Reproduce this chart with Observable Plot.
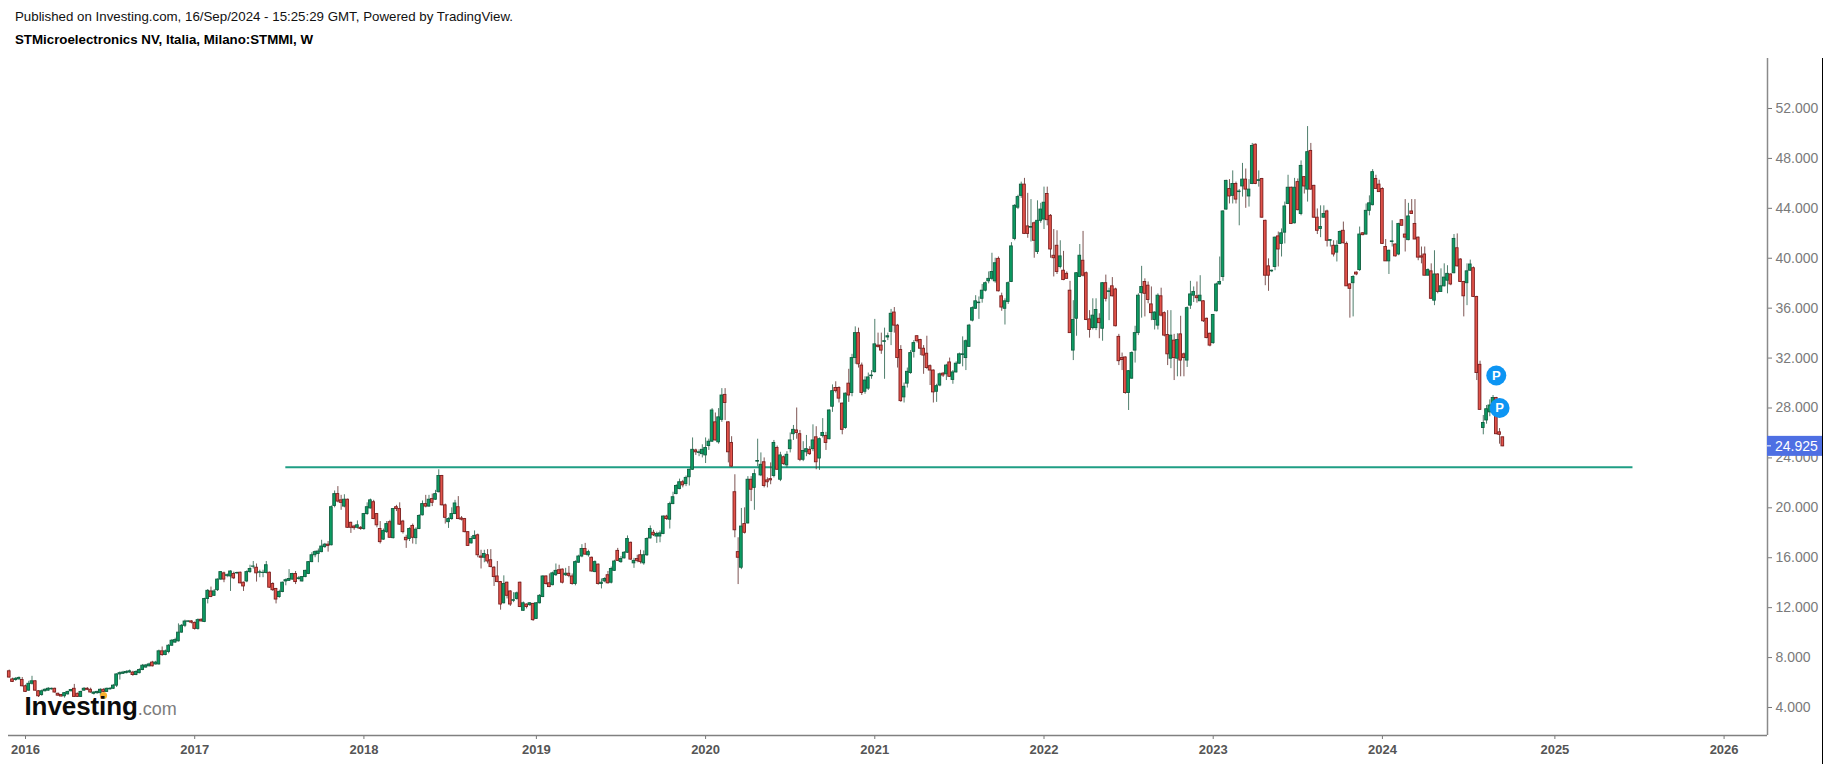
<!DOCTYPE html>
<html><head><meta charset="utf-8">
<script src="https://cdn.jsdelivr.net/npm/d3@7"></script>
<script src="https://cdn.jsdelivr.net/npm/@observablehq/plot@0.6"></script>
<style>
html,body{margin:0;padding:0;background:#fff;width:1830px;height:764px;overflow:hidden;font-family:"Liberation Sans",Arial,sans-serif}
#head{position:relative;height:50px}
#head div{position:absolute;left:15px;font-size:13.3px;line-height:14px;color:#111;white-space:nowrap}
#chart svg{display:block}
#logo{position:absolute;left:24.5px;top:691px;line-height:30px;white-space:nowrap;color:#0b0b0b;font-weight:bold;font-size:26px;letter-spacing:-.1px}
#logo span{font-weight:normal;font-size:18px;color:#7d7d7d;letter-spacing:0}
</style></head><body>
<div id="head"><div style="top:10px">Published on Investing.com, 16/Sep/2024 - 15:25:29 GMT, Powered by TradingView.</div>
<div style="top:33px;font-weight:bold;color:#000">STMicroelectronics NV, Italia, Milano:STMMI, W</div></div>
<div id="chart"></div>
<div id="logo">Investing<span>.com</span></div>
<script>
// weekly rows: open, high, low, close
const w2015 = [[6.9,7.0,6.35,6.4],[6.25,6.35,6.0,6.05],[6.2,6.4,6.1,6.3],[6.25,6.45,6.2,6.37],[6.2,6.4,5.65,5.7]];
const w2016 = [[5.7,5.8,5.2,5.25],[5.35,6.1,5.3,5.9],[5.9,6.5,5.8,6.1],[6.1,6.15,5.3,5.35],[5.3,5.35,4.8,4.9],[5.0,5.4,4.9,5.3],[5.3,5.5,5.25,5.42],[5.35,5.6,5.3,5.5],[5.45,5.55,5.4,5.5],[5.5,5.55,5.15,5.2],[5.1,5.15,4.9,4.95],[5.0,5.05,4.85,4.88],[4.9,5.2,4.75,5.15],[5.05,5.3,5.0,5.25],[5.3,5.45,5.25,5.4],[5.5,5.85,4.8,4.85],[5.1,5.15,4.8,4.85],[4.85,5.3,4.8,5.25],[5.35,5.6,5.3,5.5],[5.5,5.6,5.35,5.42],[5.42,5.55,5.15,5.2],[5.1,5.25,5.0,5.2],[5.15,5.3,5.05,5.25],[5.15,5.5,4.9,5.42],[5.42,5.5,5.2,5.25],[5.25,5.55,5.2,5.5],[5.45,5.6,5.4,5.5],[5.5,5.85,5.45,5.75],[5.75,6.7,5.6,6.65],[6.65,6.85,6.2,6.75],[6.7,6.9,6.65,6.8],[6.75,6.95,6.7,6.85],[6.8,7.0,6.75,6.9],[6.8,6.9,6.5,6.6],[6.6,6.95,6.55,6.85],[6.75,7.1,6.7,7.0],[7.0,7.45,6.95,7.35],[7.2,7.45,7.15,7.37],[7.3,7.55,7.25,7.45],[7.6,7.7,7.25,7.3],[7.45,7.7,7.4,7.6],[7.45,8.6,7.4,8.5],[8.5,8.85,8.1,8.2],[8.2,8.6,8.15,8.5],[8.45,9.05,8.3,8.95],[8.95,9.45,8.9,9.35],[9.2,9.55,9.15,9.4],[9.3,10.7,9.25,10.0],[10.0,10.65,9.95,10.55],[10.55,11.0,10.4,10.89],[10.87,10.95,10.8,10.9],[10.9,10.95,10.7,10.8]];
const w2017 = [[10.78,10.85,10.2,10.3],[10.3,11.1,10.2,11.0],[11.03,11.1,10.85,10.9],[10.85,12.75,10.8,12.7],[12.7,13.45,12.3,13.35],[13.3,13.65,12.8,12.85],[12.95,13.45,12.9,13.3],[13.4,14.3,13.3,14.25],[14.25,14.9,14.2,14.85],[14.75,14.85,14.0,14.25],[14.55,14.7,14.4,14.6],[14.5,14.95,13.3,14.9],[14.7,14.85,14.25,14.35],[14.75,14.85,14.65,14.78],[14.8,14.85,13.9,13.95],[14.0,14.05,13.3,13.7],[14.1,14.95,14.0,14.85],[14.85,15.4,14.75,15.1],[15.28,15.7,15.1,15.3],[15.2,15.5,14.05,14.75],[14.8,15.0,14.4,14.83],[14.78,15.0,14.4,14.8],[14.78,15.7,14.7,15.4],[14.8,14.85,13.55,13.6],[13.9,14.0,13.3,13.4],[13.5,13.55,12.3,12.65],[12.85,13.4,12.75,13.25],[13.25,14.05,13.2,14.0],[14.1,14.3,13.75,14.2],[14.15,15.05,14.1,14.3],[14.25,14.75,14.2,14.7],[14.7,14.9,13.85,14.05],[14.3,14.5,14.2,14.35],[14.1,14.5,14.05,14.45],[14.45,15.0,14.4,14.95],[14.7,15.7,14.65,15.65],[15.65,16.4,15.6,16.2],[16.2,16.55,16.0,16.45],[16.3,16.7,15.6,16.5],[16.45,17.4,16.4,16.9],[16.85,17.15,16.75,17.05],[17.05,17.3,16.45,16.95],[17.0,20.15,16.95,20.05],[20.15,21.35,20.0,21.1],[21.1,21.7,20.4,20.5],[20.6,21.0,19.8,20.4],[20.1,21.05,20.0,20.65],[20.65,20.7,18.35,18.4],[18.8,18.85,17.95,18.4],[18.5,18.6,18.2,18.37],[18.4,18.95,18.3,18.6],[18.4,18.5,18.2,18.3]];
const w2018 = [[18.3,19.55,18.2,19.5],[19.5,20.4,19.4,20.05],[19.95,20.7,19.9,20.6],[20.45,20.6,19.05,19.1],[19.5,19.55,18.4,18.6],[18.3,18.9,17.1,17.25],[17.45,18.3,17.4,18.15],[18.05,18.9,17.95,18.7],[18.85,19.0,17.55,17.6],[17.57,19.95,17.5,19.9],[20.05,20.2,19.7,19.9],[19.9,20.4,18.6,18.65],[18.9,19.0,17.9,18.05],[17.6,17.8,16.75,17.4],[17.5,18.4,17.3,18.3],[18.55,18.7,17.1,17.6],[17.57,18.4,17.05,18.25],[18.3,19.45,18.25,19.35],[19.4,20.55,19.35,20.3],[20.3,21.0,20.0,20.1],[20.1,21.0,20.05,20.65],[20.7,21.1,20.1,20.4],[20.65,21.4,20.6,21.1],[21.25,23.05,21.2,22.55],[22.55,22.6,20.15,20.2],[20.2,20.3,18.7,19.2],[18.85,19.2,18.35,19.1],[19.1,20.0,19.0,19.5],[19.5,20.6,19.45,20.35],[20.05,20.9,19.05,19.1],[19.15,19.3,18.95,19.05],[19.1,19.15,18.0,18.05],[18.05,18.1,16.9,16.95],[17.15,17.7,17.1,17.5],[17.5,18.15,17.45,17.75],[17.8,17.9,16.0,16.2],[16.1,16.6,15.1,16.0],[16.0,16.6,15.6,16.3],[16.2,16.65,15.5,15.7],[15.8,16.65,15.2,15.25],[15.2,15.3,13.7,14.45],[14.5,15.7,14.0,14.05],[14.05,14.1,11.8,12.25],[12.35,14.55,12.3,13.9],[14.0,14.05,12.7,12.95],[13.3,13.35,12.1,12.25],[12.55,13.2,12.4,12.6],[12.7,13.25,12.6,13.15],[14.0,14.05,12.0,12.05],[11.75,12.45,11.7,12.35],[12.25,12.3,11.9,12.05],[12.2,12.4,12.1,12.35],[12.3,12.35,10.9,11.0]];
const w2019 = [[11.1,12.4,11.05,12.35],[12.35,13.05,12.3,12.95],[12.85,14.55,12.8,14.5],[14.5,14.55,13.8,13.9],[13.95,14.7,13.6,13.65],[13.8,14.85,13.75,14.75],[14.6,15.5,14.5,14.95],[15.0,15.4,14.7,14.7],[15.05,15.1,13.9,14.0],[14.6,15.15,14.5,14.72],[14.72,15.3,14.4,14.55],[14.5,14.7,13.8,13.9],[13.9,15.75,13.75,15.65],[15.6,16.2,15.55,16.1],[16.1,17.05,16.0,16.7],[16.7,17.15,16.2,16.25],[16.2,16.6,16.05,16.45],[16.0,16.05,14.85,14.9],[14.85,15.75,14.8,15.65],[15.45,15.5,13.8,13.9],[13.9,14.3,13.5,14.0],[14.1,14.4,14.0,14.3],[14.6,14.9,13.9,13.95],[14.0,15.25,13.9,15.1],[14.95,15.8,14.9,15.7],[16.55,16.75,15.7,15.75],[15.65,16.1,15.55,15.9],[15.95,16.5,15.9,16.4],[16.4,17.75,16.35,17.5],[17.2,17.25,15.8,15.85],[15.55,15.95,15.15,15.75],[15.9,16.2,15.6,15.75],[16.2,16.6,15.5,15.65],[15.55,16.55,15.4,16.2],[16.2,17.6,16.1,17.5],[17.55,18.55,17.5,18.3],[18.0,18.2,17.7,17.8],[17.7,18.05,17.15,17.9],[17.7,18.15,17.2,17.95],[17.9,19.35,17.85,19.3],[19.3,19.4,19.0,19.1],[19.05,20.45,18.3,20.3],[20.3,21.25,20.25,20.85],[21.1,21.85,21.05,21.75],[21.5,22.3,21.45,22.05],[22.05,22.2,21.6,21.8],[21.9,22.55,21.7,22.4],[22.45,23.1,21.75,23.05],[23.05,25.6,23.0,24.65],[24.6,24.7,24.2,24.45],[24.4,24.65,24.1,24.45],[24.3,25.05,24.0,24.65]];
const w2020 = [[24.2,25.6,23.55,24.8],[24.95,25.5,24.6,25.3],[25.3,27.95,25.25,27.8],[26.85,27.6,25.35,25.4],[25.25,27.95,25.1,27.25],[27.05,29.55,26.85,29.0],[29.05,29.55,27.0,28.4],[26.85,26.9,23.6,24.45],[25.2,25.7,23.25,23.3],[21.25,22.65,17.6,18.2],[16.45,17.6,13.85,16.0],[15.2,19.95,15.05,18.5],[18.7,20.0,17.9,18.0],[18.75,22.5,18.7,22.25],[22.25,22.5,20.5,21.45],[21.6,23.05,19.8,22.7],[23.7,25.5,23.3,23.75],[22.6,24.4,22.5,23.45],[23.65,24.0,21.6,21.75],[22.2,22.4,21.6,22.05],[22.3,23.6,21.85,22.2],[22.55,25.4,22.4,25.2],[24.8,24.95,23.0,23.05],[22.25,24.45,22.1,24.2],[24.05,24.15,23.4,23.5],[23.4,24.5,23.2,24.25],[24.7,26.0,24.4,25.4],[25.9,26.6,25.4,26.25],[26.2,28.0,25.5,26.0],[25.9,26.2,23.7,23.85],[23.85,25.3,23.7,24.55],[24.45,25.8,24.1,24.7],[24.65,24.9,24.2,24.3],[24.7,26.65,24.5,25.4],[25.65,26.5,23.05,23.65],[23.95,25.6,23.0,25.5],[25.75,27.15,25.6,26.0],[25.75,26.05,24.6,25.2],[25.5,27.85,25.45,27.8],[28.1,29.85,27.65,29.35],[29.6,30.1,29.2,29.35],[29.6,29.7,28.4,28.75],[28.35,28.4,25.85,26.25],[26.4,29.2,26.3,29.15],[29.95,31.1,28.45,29.0],[29.2,32.3,28.9,32.0],[32.0,34.5,31.5,34.0],[34.0,34.4,31.2,31.5],[31.4,31.6,29.0,29.2],[29.3,30.5,29.1,30.2],[29.55,30.8,29.4,30.45],[30.55,31.0,30.3,30.6]];
const w2021 = [[30.87,35.1,30.8,33.1],[33.0,34.0,32.8,32.9],[33.0,34.0,32.3,32.6],[33.3,34.4,30.3,33.35],[33.65,34.0,33.4,33.75],[34.1,35.9,33.0,35.55],[35.65,36.05,34.0,34.6],[34.6,34.7,31.2,32.0],[32.65,33.0,28.45,28.55],[28.85,30.0,28.4,29.7],[29.95,31.2,29.6,30.9],[30.8,32.6,30.7,32.4],[32.5,33.4,32.0,33.2],[33.75,33.8,33.2,33.35],[33.45,33.5,32.2,32.75],[32.75,33.0,30.7,32.2],[32.35,33.75,31.1,31.2],[31.35,31.45,29.8,31.0],[31.0,31.05,28.4,29.25],[29.3,29.9,28.45,29.75],[29.8,30.8,29.7,30.7],[30.75,30.85,30.45,30.6],[30.7,31.5,30.2,31.4],[31.65,32.0,30.45,30.5],[30.25,31.0,29.9,30.85],[30.85,31.7,30.8,31.55],[31.55,32.4,31.5,32.3],[32.25,33.7,31.3,32.3],[32.0,33.45,31.0,33.35],[32.9,34.7,32.85,34.6],[35.0,36.1,34.9,36.0],[35.95,37.0,35.9,36.55],[36.4,36.9,35.1,36.45],[36.75,37.9,36.4,37.4],[37.4,38.1,37.3,38.0],[38.15,38.9,37.95,38.35],[38.35,40.4,38.2,38.9],[38.15,40.0,38.0,39.6],[39.95,40.1,37.3,37.35],[36.95,37.2,35.75,36.05],[35.95,36.75,34.65,36.55],[36.5,38.1,36.3,38.0],[38.1,41.25,38.05,40.95],[41.55,44.3,41.4,44.2],[44.05,45.05,43.9,44.9],[45.0,46.1,44.8,45.9],[45.9,46.4,41.9,41.95],[42.55,45.2,41.6,41.95],[42.45,44.7,41.3,42.5],[42.8,42.9,40.0,41.4],[40.5,44.6,40.3,43.0],[43.0,44.4,42.8,43.9]];
const w2022 = [[43.1,45.7,42.3,44.45],[45.15,45.7,42.6,43.05],[43.4,43.5,40.0,40.7],[40.2,42.3,38.5,40.0],[41.0,42.2,38.7,38.9],[39.3,41.4,39.15,40.15],[39.0,40.55,38.2,38.25],[38.75,38.9,38.35,38.35],[37.4,38.15,34.0,34.0],[32.6,36.6,31.8,35.05],[35.15,38.85,33.75,38.8],[38.5,41.1,38.45,40.2],[39.8,42.15,38.5,38.6],[38.8,38.9,35.0,35.05],[35.1,35.8,33.6,34.25],[34.4,36.75,34.25,35.4],[34.4,36.75,34.2,35.85],[35.15,35.55,33.55,34.8],[34.35,38.05,33.35,38.0],[38.0,38.65,36.5,36.75],[37.3,37.6,35.0,37.35],[37.75,38.45,36.9,36.95],[37.5,37.6,34.5,34.55],[33.7,33.9,31.4,31.75],[32.0,32.4,31.0,31.85],[32.05,32.1,29.1,29.2],[29.2,31.0,27.8,30.95],[30.35,32.5,30.3,32.4],[32.6,34.55,31.6,34.0],[34.0,37.15,33.8,37.0],[37.2,39.35,35.2,37.7],[38.1,38.35,35.3,37.15],[37.8,38.1,36.35,36.65],[36.3,37.7,35.0,35.6],[35.05,35.7,34.25,35.65],[34.6,37.15,34.25,37.0],[36.95,37.6,35.3,35.4],[35.6,35.7,33.7,33.8],[33.85,35.8,31.4,32.3],[31.95,35.8,31.15,33.8],[33.4,33.9,30.2,32.0],[31.95,33.95,30.5,33.45],[33.9,35.35,30.5,31.8],[32.3,32.4,30.5,32.0],[31.8,36.1,31.25,36.0],[36.2,38.15,35.9,37.1],[37.0,37.7,36.45,37.3],[36.95,38.1,36.4,36.8],[36.55,38.6,36.55,37.0],[36.55,36.6,34.85,34.95],[35.15,35.2,33.55,33.6],[33.95,34.0,32.9,33.0]];
const w2023 = [[33.2,35.5,33.1,35.45],[35.75,38.0,35.7,37.9],[37.9,40.1,37.85,38.1],[38.5,43.8,38.15,43.75],[43.9,46.25,43.85,46.2],[45.55,46.3,44.35,44.95],[45.0,47.0,44.35,45.95],[45.95,46.1,44.35,44.7],[45.3,45.5,42.6,45.35],[45.75,47.6,44.9,46.3],[46.3,47.15,44.0,45.5],[44.95,46.3,44.1,45.5],[45.95,49.2,45.9,49.0],[49.1,49.15,45.9,45.95],[46.2,47.0,45.7,46.25],[46.35,46.4,43.2,43.25],[43.0,43.05,37.8,38.6],[39.35,39.95,37.35,38.6],[38.95,39.05,38.85,39.0],[39.3,41.7,39.0,41.65],[41.75,42.1,39.3,40.7],[41.15,42.35,40.1,42.0],[42.05,44.5,41.15,44.15],[44.35,46.65,44.3,45.65],[45.65,45.7,42.7,42.75],[42.8,46.4,42.75,45.65],[46.1,46.35,43.8,43.85],[43.55,47.8,43.4,47.4],[46.5,46.55,45.15,45.75],[45.5,50.55,44.5,48.5],[48.6,49.2,45.45,45.5],[45.8,45.85,43.2,43.25],[43.25,43.95,41.9,42.2],[42.35,44.2,41.65,42.5],[43.25,44.2,43.2,43.55],[43.75,43.85,40.9,41.4],[41.4,41.5,40.9,41.45],[41.0,41.4,40.1,40.3],[40.45,41.4,39.7,41.0],[41.15,42.2,41.1,42.1],[42.2,42.9,41.15,41.2],[41.15,41.3,37.75,37.75],[37.9,37.95,35.2,37.55],[38.0,38.6,35.3,38.5],[38.85,38.9,38.6,38.7],[39.05,42.5,38.95,41.9],[42.0,42.05,41.8,41.85],[41.9,44.35,41.85,43.8],[43.8,45.0,43.4,44.4],[44.25,47.1,44.2,46.9],[46.35,46.65,45.55,45.55],[45.9,46.25,45.3,45.3]];
const w2024 = [[45.55,45.65,41.1,41.15],[40.9,41.5,39.75,39.75],[39.75,40.65,38.7,40.6],[41.3,43.0,40.9,41.35],[41.1,41.15,40.1,40.15],[40.3,42.8,40.2,42.75],[43.05,43.1,42.6,42.6],[41.9,44.7,40.5,41.65],[41.45,44.4,41.4,43.35],[43.75,44.7,43.55,43.55],[42.75,44.7,41.5,41.5],[41.65,41.7,39.8,40.05],[40.15,40.9,39.55,40.05],[40.3,40.9,38.6,38.6],[38.6,39.15,38.6,39.05],[38.95,39.55,36.75,36.75],[36.6,40.6,36.2,38.7],[38.7,38.75,37.15,37.3],[37.3,39.15,37.3,37.75],[37.75,39.55,37.7,38.45],[38.2,39.4,37.15,38.75],[38.7,38.75,37.8,37.9],[38.8,41.9,38.75,41.55],[40.8,41.95,39.3,39.35],[39.9,39.95,38.05,38.1],[38.1,38.15,35.3,36.95],[38.0,39.55,36.2,38.95],[39.0,39.85,38.95,39.5],[39.2,39.3,36.85,36.9],[36.9,36.95,30.2,30.8],[31.46,31.75,27.85,27.85],[26.4,27.4,25.85,26.8],[27.0,28.2,26.7,27.9],[27.65,28.65,27.3,28.2],[28.05,29.0,27.9,28.8],[28.8,28.85,25.85,25.9],[26.05,26.35,25.1,25.85],[25.65,25.65,24.9,24.925]];
const yearRows = [w2015, w2016, w2017, w2018, w2019, w2020, w2021, w2022, w2023, w2024];
const rowStarts = ["2015-11-30","2016-01-04","2017-01-02","2018-01-01","2019-01-07","2020-01-06","2021-01-04","2022-01-03","2023-01-02","2024-01-01"];
const yearTickDates = ["2016-01-04","2017-01-02","2018-01-01","2019-01-07","2020-01-06","2021-01-04","2022-01-03","2023-01-02","2024-01-01","2025-01-06","2026-01-05"];
const priceTicks = [4,8,12,16,20,24,28,32,36,40,44,48,52];
const lastPrice = 24.925;
const supportLevel = 23.25;
const supportSpan = ["2017-07-17","2025-06-23"];
const flagPoints = [{date:"2024-09-02",price:30.6},{date:"2024-09-09",price:28.0}];
const dividendPoints = [{date:"2016-06-20",price:4.96}];

const DAY = 864e5, WEEK = 7*DAY;
const d0 = new Date("2016-01-04").getTime();
const candles = yearRows.flatMap((rows,k) => rows.map((r,i) => {
  const t = new Date(rowStarts[k]).getTime() + i*WEEK;
  return {t:new Date(t), a:new Date(t-2.9*DAY), b:new Date(t+2.9*DAY), o:r[0], h:r[1], l:r[2], c:r[3], up:r[3]>=r[0]};
}));
const GREEN="#0c9c63", GREENB="#0f5f40", RED="#e2534a", REDB="#7c1e1e";
const xDomain=[new Date(d0-17/3.254*WEEK), new Date(d0+(1767-25)/3.254*WEEK)];
const yDomain=[1.756,56.006];
const tickDates = yearTickDates.map(d=>new Date(d));
const chart = Plot.plot({
  width:1830, height:714, marginTop:8, marginBottom:29, marginLeft:8, marginRight:63,
  style:{background:"#fff",fontFamily:'"Liberation Sans",Arial,sans-serif',overflow:"visible"},
  x:{type:"utc",domain:xDomain,label:null},
  y:{type:"linear",domain:yDomain,label:null},
  marks:[
    Plot.ruleY([supportLevel],{x1:new Date(supportSpan[0]),x2:new Date(supportSpan[1]),stroke:"#1f9e84",strokeWidth:2}),
    Plot.ruleX(candles,{x:"t",y1:"l",y2:"h",stroke:d=>d.up?"#245f48":"#5e2a28",strokeWidth:1,strokeOpacity:.8,imageFilter:"blur(0.3px)"}),
    Plot.rect(candles,{x1:"a",x2:"b",y1:"o",y2:"c",fill:d=>d.up?GREEN:RED,stroke:d=>d.up?GREENB:REDB,strokeWidth:.9,imageFilter:"blur(0.3px)"}),
    Plot.dot(dividendPoints,{x:d=>new Date(d.date),y:"price",r:3.5,fill:"#f8b02c"}),
    Plot.dot(flagPoints,{x:d=>new Date(d.date),y:"price",r:10,fill:"#0d95f3"}),
    Plot.text(flagPoints,{x:d=>new Date(d.date),y:"price",text:()=>"P",fill:"#fff",fontWeight:"bold",fontSize:13}),
    Plot.axisX({ticks:tickDates,tickFormat:d=>String(d.getUTCFullYear()),anchor:"bottom",tickSize:4,tickPadding:5,fontSize:13,fontWeight:"bold",stroke:"#777",fill:"#555",label:null}),
    Plot.axisY({ticks:priceTicks,tickFormat:d=>d.toFixed(3),anchor:"right",tickSize:4,tickPadding:4,fontSize:14,stroke:"#777",fill:"#7a7a7a",label:null}),
    Plot.ruleX([xDomain[1]],{stroke:"#8a8a8a",strokeWidth:1.5}),
    Plot.ruleY([yDomain[0]],{stroke:"#808080",strokeWidth:1.5}),
    (index,{y},values,{width,height}) => {
      const g=d3.create("svg:g"), py=y(lastPrice);
      g.append("line").attr("x1",1822.5).attr("x2",1822.5).attr("y1",8).attr("y2",height).attr("stroke","#000");
      g.append("rect").attr("x",1767).attr("y",py-10).attr("width",55).attr("height",20).attr("fill","#4e6fe3");
      g.append("line").attr("x1",1767).attr("x2",1771).attr("y1",py).attr("y2",py).attr("stroke","#fff");
      g.append("text").attr("x",1775).attr("y",py).attr("dy","0.36em").attr("text-anchor","start").attr("fill","#fff").attr("font-size",14).text(lastPrice.toFixed(3));
      return g.node();
    }
  ]
});
document.getElementById("chart").appendChild(chart);
</script></body></html>
